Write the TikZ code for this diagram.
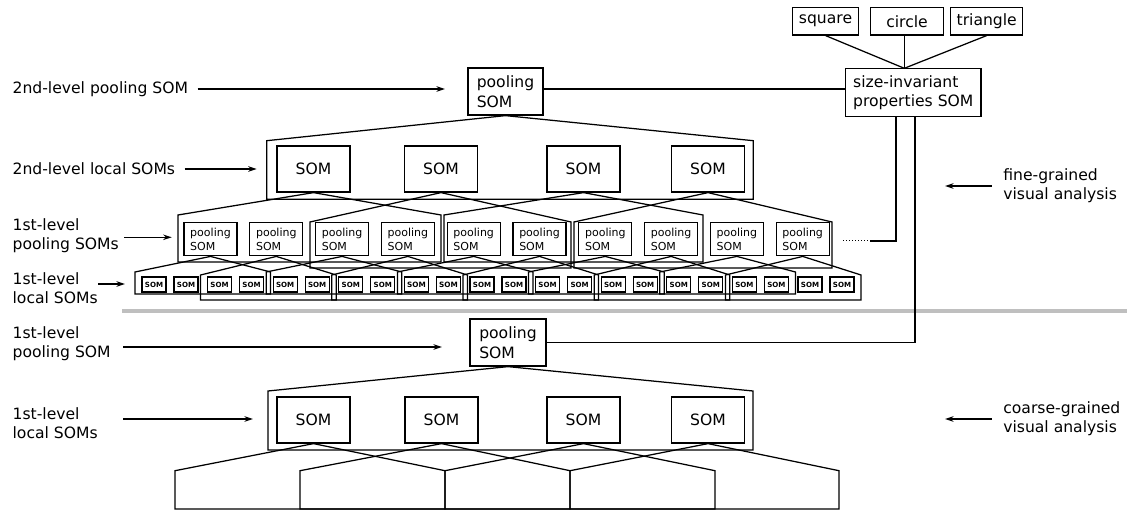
\documentclass[tikz,border=0pt]{standalone}
\usepackage{fontspec}
\setmainfont{DejaVu Sans}
\usetikzlibrary{arrows.meta,calc}

\tikzset{
  box/.style={draw, rectangle, inner sep=0pt, align=center},
  poolbox/.style={draw, rectangle, inner sep=0pt, align=left},
  bigpool/.style={poolbox, font=\fontsize{15.6}{20}\selectfont},
  smallpool/.style={poolbox, minimum width=53pt, minimum height=33pt, font=\fontsize{11}{14}\selectfont},
  bigsom/.style={box, minimum width=73pt, minimum height=46pt},
  tiny/.style={box, minimum width=24pt, minimum height=15pt, font=\fontsize{7.1}{9}\selectfont\bfseries},
  tinybold/.style={tiny, line width=1.8pt, font=\fontsize{7.3}{9}\selectfont\bfseries},
  lbl/.style={inner sep=0pt, align=left, anchor=west},
  pointer/.style={-{Stealth[length=8.5pt,width=5.5pt]}},
  separator/.style={gray!50, line width=3.5pt},
}

\begin{document}
\begin{tikzpicture}[x=1pt, y=-1pt, line width=1.25pt, line join=miter,
                    font=\fontsize{15.6}{19.3}\selectfont]
\useasboundingbox (0,0) rectangle (1127,510);

% ---------- shape property layer ----------
\node[box, minimum width=66pt, minimum height=27.5pt] (square)   at (825.5,21.2) {square};
\node[box, minimum width=72.6pt, minimum height=27.5pt] (circle) at (907,21.2)   {circle};
\node[box, minimum width=72pt, minimum height=27.5pt] (triangle) at (986.7,21.2) {triangle};
\node[poolbox, minimum width=135.3pt, minimum height=48.5pt] (si) at (913.3,92.5)
     {size-invariant\\properties SOM};
\coordinate (siTop) at (904.3,68.3);
\draw (square.south) -- (siTop);
\draw (siTop |- circle.south) -- (siTop);
\draw (triangle.south) -- (siTop);

% ---------- fine-grained hierarchy ----------
\node[bigpool, minimum width=75pt, minimum height=47pt] (pool2) at (505.5,91.5) {pooling\\SOM};
\draw (pool2.east |- 0,89) -- (si.west |- 0,89);

% envelope of the 2nd-level local SOMs
\draw (pool2.south) -- (266.7,140.7) -- (266.7,199.3) -- (753.3,199.3) -- (753.3,140.7) -- cycle;
\foreach \n/\x in {1/313.5, 2/441, 3/583.5, 4/708}
  \node[bigsom] (loc2-\n) at (\x,169) {SOM};

% envelopes of the 1st-level pooling SOMs
\foreach \n/\l/\r/\t/\b in {1/178/441/215/262, 2/310/571/222/268,
                           3/444/703/215/262, 4/574/832/222/268}
  \draw (loc2-\n.south) -- (\l,\t) -- (\l,\b) -- (\r,\b) -- (\r,\t) -- cycle;

\foreach \k in {1,...,10} {
  \pgfmathsetmacro\px{210.5+65.8*(\k-1)}
  \node[smallpool] (pool1-\k) at (\px,239.3) {pooling\\SOM};
}

% envelopes of the 1st-level local SOMs
\foreach \k in {1,...,10} {
  \pgfmathsetmacro\l{142+65.6*(\k-1)-7}
  \pgfmathsetmacro\r{142+65.6*\k+63}
  \pgfmathsetmacro\t{mod(\k,2)==1 ? 272 : 275}
  \pgfmathsetmacro\b{mod(\k,2)==1 ? 294 : 300}
  \draw (pool1-\k.south) -- (\l,\t) -- (\l,\b) -- (\r,\b) -- (\r,\t) -- cycle;
}

\foreach \j/\st in {1/tiny, 2/tiny, 3/tiny, 4/tiny, 5/tinybold, 6/tiny,
                    7/tiny, 8/tiny, 9/tiny, 10/tiny, 11/tiny} {
  \pgfmathsetmacro\xa{154+65.6*(\j-1)}
  \pgfmathsetmacro\xb{\xa+32}
  \node[\st] (tiny-\j-a) at (\xa,284.5) {SOM};
  \node[\st] (tiny-\j-b) at (\xb,284.5) {SOM};
}

% link from the pooling row to the property SOM
\coordinate (dotL) at (843,241);
\coordinate (dotR) at (870,241);
\coordinate (siLegA) at (896,116.7);
\coordinate (siLegB) at (915,116.7);
\draw[dotted, line width=1pt] (dotL) -- (dotR);
\draw (dotR) -| (siLegA);

% ---------- separator ----------
\draw[separator] (122,311) -- (1127,311);

% ---------- coarse-grained hierarchy ----------
\node[bigpool, minimum width=76pt, minimum height=47pt] (poolB) at (508,342.5) {pooling\\SOM};
\draw (poolB.east) -| (siLegB);

\draw (poolB.south) -- (268,391) -- (268,450) -- (753,450) -- (753,391) -- cycle;
\foreach \n/\x in {1/313.5, 2/441.5, 3/583.5, 4/708}
  \node[bigsom] (locB-\n) at (\x,420) {SOM};

\foreach \n/\l/\r in {1/175/445, 2/300/570, 3/445/715, 4/570/839}
  \draw (locB-\n.south) -- (\l,470.7) -- (\l,509) -- (\r,509) -- (\r,470.7) -- cycle;

% ---------- level labels ----------
\node[lbl] (lab-pool2) at (12,89) {2nd-level pooling SOM};
\coordinate (tip-pool2) at (445,89);
\draw[pointer] ($(lab-pool2.east)+(9,0)$) -- (tip-pool2);

\node[lbl] (lab-loc2) at (12,169) {2nd-level local SOMs};
\coordinate (tip-loc2) at (256.7,169);
\draw[pointer] ($(lab-loc2.east)+(9,0)$) -- (tip-loc2);

\node[lbl] (lab-pool1) at (12,235.5) {1st-level\\pooling SOMs};
\coordinate (tip-pool1) at (171.7,237.3);
\draw[pointer] ($(lab-pool1.east)+(5,1.8)$) -- (tip-pool1);

\node[lbl] (lab-loc1) at (12,288.3) {1st-level\\local SOMs};
\coordinate (tip-loc1) at (125,284);
\draw[pointer] ($(lab-loc1.east)+(0,-4.3)$) -- (tip-loc1);

\node[lbl] (lab-poolB) at (12,344) {1st-level\\pooling SOM};
\coordinate (tip-poolB) at (442,347);
\draw[pointer] ($(lab-poolB.east)+(12,3)$) -- (tip-poolB);

\node[lbl] (lab-locB) at (12,423) {1st-level\\local SOMs};
\coordinate (tip-locB) at (253,419);
\draw[pointer] ($(lab-locB.east)+(25,-4)$) -- (tip-locB);

\node[lbl] (lab-fine) at (1002.7,186) {fine-grained\\visual analysis};
\coordinate (tip-fine) at (945,186);
\draw[pointer] ($(lab-fine.west)+(-11,0)$) -- (tip-fine);

\node[lbl] (lab-coarse) at (1002.7,418.5) {coarse-grained\\visual analysis};
\coordinate (tip-coarse) at (945,419);
\draw[pointer] ($(lab-coarse.west)+(-11,0.5)$) -- (tip-coarse);
\end{tikzpicture}
\end{document}
